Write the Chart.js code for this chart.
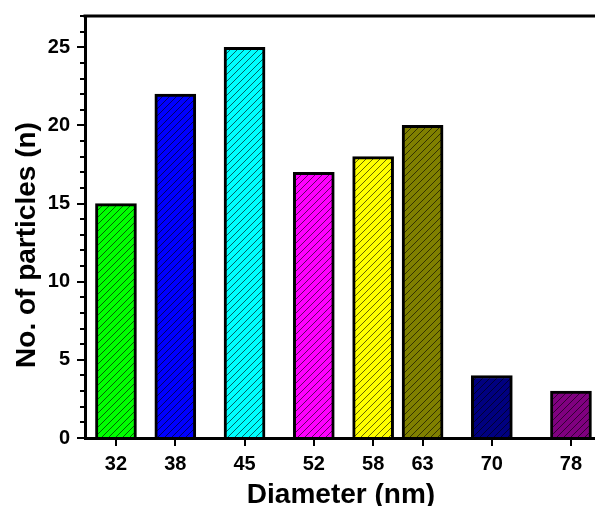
<!DOCTYPE html>
<html>
<head>
<meta charset="UTF-8">
<title>Particle size distribution</title>
<style>
  body { margin: 0; background: #fff; }
  #wrap { width: 595px; height: 506px; }
</style>
</head>
<body>
<div id="wrap"><canvas id="sizeChart" width="595" height="506"></canvas></div>
<script src="https://cdn.jsdelivr.net/npm/chart.js"></script>
<script>
const diameters = [32, 38, 45, 52, 58, 63, 70, 78];
const counts = [15, 22, 25, 17, 18, 20, 4, 3];
const barColors = ['#00ff00', '#0000ff', '#00ffff', '#ff00ff', '#ffff00', '#808000', '#000080', '#800080'];
const yLabels = [0, 5, 10, 15, 20, 25];
const xTitle = 'Diameter (nm)';
const yTitle = 'No. of particles (n)';

const FONT = "'Liberation Sans', Arial, sans-serif";

// diagonal hatch fill for the bars
function hatch(color) {
  const n = 7;
  const c = document.createElement('canvas');
  c.width = n; c.height = n;
  const g = c.getContext('2d');
  g.fillStyle = color;
  g.fillRect(0, 0, n, n);
  g.strokeStyle = 'rgba(0,0,0,0.6)';
  g.lineWidth = 1;
  g.beginPath();
  g.moveTo(0, n); g.lineTo(n, 0);
  g.moveTo(-1, 1); g.lineTo(1, -1);
  g.moveTo(n - 1, n + 1); g.lineTo(n + 1, n - 1);
  g.stroke();
  return g.createPattern(c, 'repeat');
}

// tick marks, top frame line and axis titles
const frame = {
  id: 'frame',
  afterDraw(chart) {
    const { ctx, chartArea: a, scales: { x, y } } = chart;
    ctx.save();
    ctx.strokeStyle = '#000';
    ctx.lineWidth = 2;
    ctx.beginPath();
    for (let v = 0; v <= 27; v++) {
      const py = Math.round(y.getPixelForValue(v));
      const len = v % 5 === 0 ? 8 : 5;
      ctx.moveTo(a.left - len, py);
      ctx.lineTo(a.left, py);
    }
    diameters.forEach(d => {
      const px = Math.round(x.getPixelForValue(d));
      ctx.moveTo(px, a.bottom);
      ctx.lineTo(px, a.bottom + 8);
    });
    ctx.stroke();

    ctx.lineWidth = 3;
    ctx.beginPath();
    ctx.moveTo(a.left - 1.5, a.top);
    ctx.lineTo(a.right, a.top);
    ctx.stroke();

    ctx.fillStyle = '#000';
    ctx.font = 'bold 28px ' + FONT;
    ctx.textAlign = 'center';
    ctx.textBaseline = 'alphabetic';
    ctx.fillText(xTitle, (a.left + a.right) / 2 + 1, 503);
    ctx.translate(35, 245);
    ctx.rotate(-Math.PI / 2);
    ctx.fillText(yTitle, 0, 0);
    ctx.restore();
  }
};

new Chart(document.getElementById('sizeChart'), {
  type: 'bar',
  data: {
    datasets: [{
      data: diameters.map((d, i) => ({ x: d, y: counts[i] })),
      backgroundColor: barColors.map(hatch),
      borderColor: '#000',
      borderWidth: 3,
      borderSkipped: 'start',
      barThickness: 41
    }]
  },
  options: {
    responsive: false,
    animation: false,
    devicePixelRatio: 1,
    layout: { padding: { top: 16, left: 0, right: 0, bottom: 0 } },
    plugins: { legend: { display: false }, tooltip: { enabled: false } },
    scales: {
      x: {
        type: 'linear',
        offset: false,
        min: 28.87,
        max: 80.43,
        afterBuildTicks: s => { s.ticks = diameters.map(v => ({ value: v })); },
        afterFit: s => { s.height = 68; s.paddingLeft = 0; s.paddingRight = 0; },
        grid: { display: false, drawTicks: false },
        border: { display: true, width: 3, color: '#000', z: 1 },
        ticks: { color: '#000', font: { family: FONT, size: 20, weight: 'bold' }, padding: 14, maxRotation: 0, autoSkip: false }
      },
      y: {
        min: 0,
        max: 27,
        afterFit: s => { s.width = 85; s.paddingTop = 0; s.paddingBottom = 0; },
        grid: { display: false, drawTicks: false },
        border: { display: true, width: 3, color: '#000', z: 1 },
        ticks: {
          stepSize: 1,
          autoSkip: false,
          color: '#000',
          font: { family: FONT, size: 20, weight: 'bold' },
          padding: 15,
          callback: v => yLabels.includes(v) ? v : ''
        }
      }
    }
  },
  plugins: [frame]
});
</script>
</body>
</html>
